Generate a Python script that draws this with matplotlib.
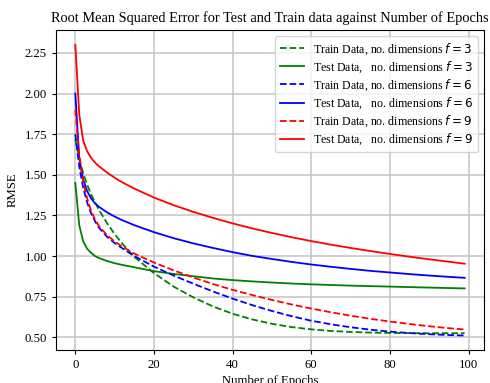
import numpy as np
import matplotlib
matplotlib.use("Agg")
import matplotlib.pyplot as plt

plt.rcParams['font.family'] = ['Liberation Serif', 'DejaVu Serif']

epochs = [0, 1, 2, 3, 4, 5, 6, 8, 10, 12, 15, 20, 25, 30, 35, 40, 45, 50,
          55, 60, 65, 70, 75, 80, 85, 90, 95, 99]

train_f3 = [1.72, 1.60, 1.51, 1.44, 1.38, 1.33, 1.285, 1.205, 1.135, 1.075, 0.995,
            0.895, 0.812, 0.746, 0.69, 0.645, 0.61, 0.583, 0.563, 0.549, 0.539,
            0.533, 0.529, 0.527, 0.526, 0.525, 0.525, 0.525]
test_f3 = [1.45, 1.19, 1.09, 1.045, 1.02, 1.0, 0.988, 0.970, 0.956, 0.945, 0.931,
           0.907, 0.89, 0.876, 0.862, 0.852, 0.844, 0.837, 0.831, 0.826, 0.822,
           0.818, 0.815, 0.812, 0.809, 0.806, 0.803, 0.801]
train_f6 = [1.75, 1.55, 1.42, 1.33, 1.265, 1.215, 1.175, 1.12, 1.08, 1.047, 1.0,
            0.935, 0.88, 0.83, 0.782, 0.738, 0.698, 0.662, 0.63, 0.602, 0.58,
            0.562, 0.547, 0.535, 0.526, 0.519, 0.514, 0.511]
test_f6 = [2.00, 1.60, 1.47, 1.40, 1.355, 1.325, 1.303, 1.27, 1.243, 1.22, 1.19,
           1.147, 1.11, 1.078, 1.05, 1.024, 1.001, 0.982, 0.964, 0.948, 0.934,
           0.921, 0.909, 0.899, 0.889, 0.88, 0.872, 0.866]
train_f9 = [1.90, 1.62, 1.46, 1.355, 1.28, 1.225, 1.185, 1.13, 1.09, 1.057, 1.015,
            0.96, 0.912, 0.868, 0.828, 0.792, 0.76, 0.73, 0.702, 0.677, 0.654,
            0.633, 0.614, 0.597, 0.582, 0.568, 0.556, 0.548]
test_f9 = [2.30, 1.87, 1.71, 1.645, 1.605, 1.575, 1.553, 1.515, 1.482, 1.453, 1.415,
           1.36, 1.313, 1.272, 1.235, 1.201, 1.17, 1.142, 1.116, 1.092, 1.07,
           1.05, 1.031, 1.013, 0.996, 0.98, 0.965, 0.953]

dims = [3, 6, 9]
colors = ['green', 'blue', 'red']
train_sets = [train_f3, train_f6, train_f9]
test_sets = [test_f3, test_f6, test_f9]

fig = plt.figure(figsize=(4.9, 3.83), dpi=100)
ax = fig.add_axes([0.114, 0.086, 0.874, 0.835])

for d, c, tr, te in zip(dims, colors, train_sets, test_sets):
    ax.plot(epochs, tr, color=c, linestyle='--', linewidth=1.3,
            label=f'Train Data, no. dimensions $f = {d}$')
    ax.plot(epochs, te, color=c, linestyle='-', linewidth=1.3,
            label=f'Test Data,   no. dimensions $f = {d}$')

ax.set_yticks([0.5, 0.75, 1.0, 1.25, 1.5, 1.75, 2.0, 2.25])
ax.set_xticks([0, 20, 40, 60, 80, 100])
ax.tick_params(labelsize=9.2, length=3)
ax.grid(True, color='#c4c4c4', linewidth=1.1)
ax.set_axisbelow(True)
ax.set_xlabel('Number of Epochs', fontsize=9.2, labelpad=3)
ax.set_ylabel('RMSE', fontsize=9.2)
ax.set_title('Root Mean Squared Error for Test and Train data against Number of Epochs',
             fontsize=10.4, pad=6)
ax.legend(loc='upper right', fontsize=8.6, handlelength=2.0,
          labelspacing=0.22, borderpad=0.4)

fig.savefig('out.png', dpi=100)
